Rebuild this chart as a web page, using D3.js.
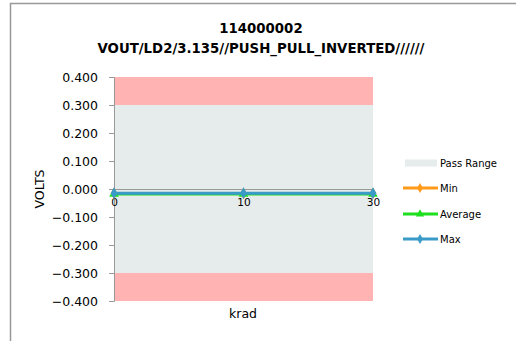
<!DOCTYPE html>
<html><head><meta charset="utf-8">
<script src="https://cdn.jsdelivr.net/npm/d3@7"></script>
<style>
body{margin:0;background:#fff;}
text{font-family:"DejaVu Sans",sans-serif;fill:#000;}
</style></head>
<body><svg id="c" width="516" height="341"></svg>
<script>
const categories = ["0","10","30"];
const minValues = [-0.016,-0.016,-0.016];
const avgValues = [-0.018,-0.018,-0.018];
const maxValues = [-0.015,-0.015,-0.015];
const yTicks = [0.4,0.3,0.2,0.1,0,-0.1,-0.2,-0.3,-0.4];
const passRange = [-0.3,0.3];
const failBands = [[0.3,0.4],[-0.4,-0.3]];
const titleLines = ["114000002","VOUT/LD2/3.135//PUSH_PULL_INVERTED//////"];
const legendItems = ["Pass Range","Min","Average","Max"];
const colors = {min:"#FF9A1A",avg:"#1EE01E",max:"#3A9AC8",pass:"#E6EBEB",fail:"#FFB3B3"};

const svg = d3.select("#c");
svg.append("rect").attr("x",10.5).attr("y",3.5).attr("width",600).attr("height",400)
  .attr("fill","none").attr("stroke","#999").attr("stroke-width",1.5);

const x = d3.scalePoint().domain(categories).range([114,373]);
const y = d3.scaleLinear().domain([-0.4,0.4]).range([301,77]);

failBands.forEach(b=>{
  svg.append("rect").attr("x",114).attr("width",259)
    .attr("y",y(b[1])).attr("height",y(b[0])-y(b[1])).attr("fill",colors.fail);
});
svg.append("rect").attr("x",114).attr("width",259)
  .attr("y",y(passRange[1])).attr("height",y(passRange[0])-y(passRange[1])).attr("fill",colors.pass);

const ya = svg.append("g").attr("transform","translate(114,0)")
  .call(d3.axisLeft(y).tickValues(yTicks).tickFormat(d3.format(".3f")).tickSize(5).tickPadding(11));
ya.select(".domain").attr("stroke","#999");
ya.selectAll(".tick line").attr("stroke","#999");
ya.selectAll("text").style("font-size","12.5px").attr("fill","#000");

const xa = svg.append("g").attr("transform",`translate(0,${y(0)})`)
  .call(d3.axisBottom(x).tickSize(0).tickPadding(10));
xa.select(".domain").attr("stroke","#999");
xa.selectAll("text").style("font-size","10.5px").attr("fill","#000");

const series = [
  {vals:minValues,color:colors.min,shape:d3.symbolDiamond},
  {vals:avgValues,color:colors.avg,shape:d3.symbolTriangle},
  {vals:maxValues,color:colors.max,shape:d3.symbolDiamond}
];
const line = d3.line().x((d,i)=>x(categories[i])).y(d=>y(d));
series.forEach(s=>{
  svg.append("path").datum(s.vals).attr("d",line).attr("fill","none")
    .attr("stroke",s.color).attr("stroke-width",3);
  s.vals.forEach((v,i)=>{
    svg.append("path").attr("d",d3.symbol().type(s.shape).size(40)())
      .attr("transform",`translate(${x(categories[i])},${y(v)})`).attr("fill",s.color);
  });
});

titleLines.forEach((t,i)=>{
  svg.append("text").attr("x",261).attr("y",33+i*20).attr("text-anchor","middle")
    .style("font-size","13.3px").style("font-weight","bold").text(t);
});
svg.append("text").attr("transform","translate(44,189) rotate(-90)").attr("text-anchor","middle")
  .style("font-size","12.5px").text("VOLTS");
svg.append("text").attr("x",243).attr("y",318).attr("text-anchor","middle")
  .style("font-size","12.5px").text("krad");

const ly = [163,188,214,239];
svg.append("rect").attr("x",405).attr("y",ly[0]-3.5).attr("width",32).attr("height",7).attr("fill",colors.pass);
[colors.min,colors.avg,colors.max].forEach((c,i)=>{
  const yy = ly[i+1];
  svg.append("line").attr("x1",403).attr("x2",438).attr("y1",yy).attr("y2",yy)
    .attr("stroke",c).attr("stroke-width",3);
  svg.append("path").attr("d",d3.symbol().type(i===1?d3.symbolTriangle:d3.symbolDiamond).size(30)())
    .attr("transform",`translate(420,${yy})`).attr("fill",c);
});
legendItems.forEach((t,i)=>{
  svg.append("text").attr("x",440).attr("y",ly[i]+4).style("font-size","10px").text(t);
});
</script></body></html>
